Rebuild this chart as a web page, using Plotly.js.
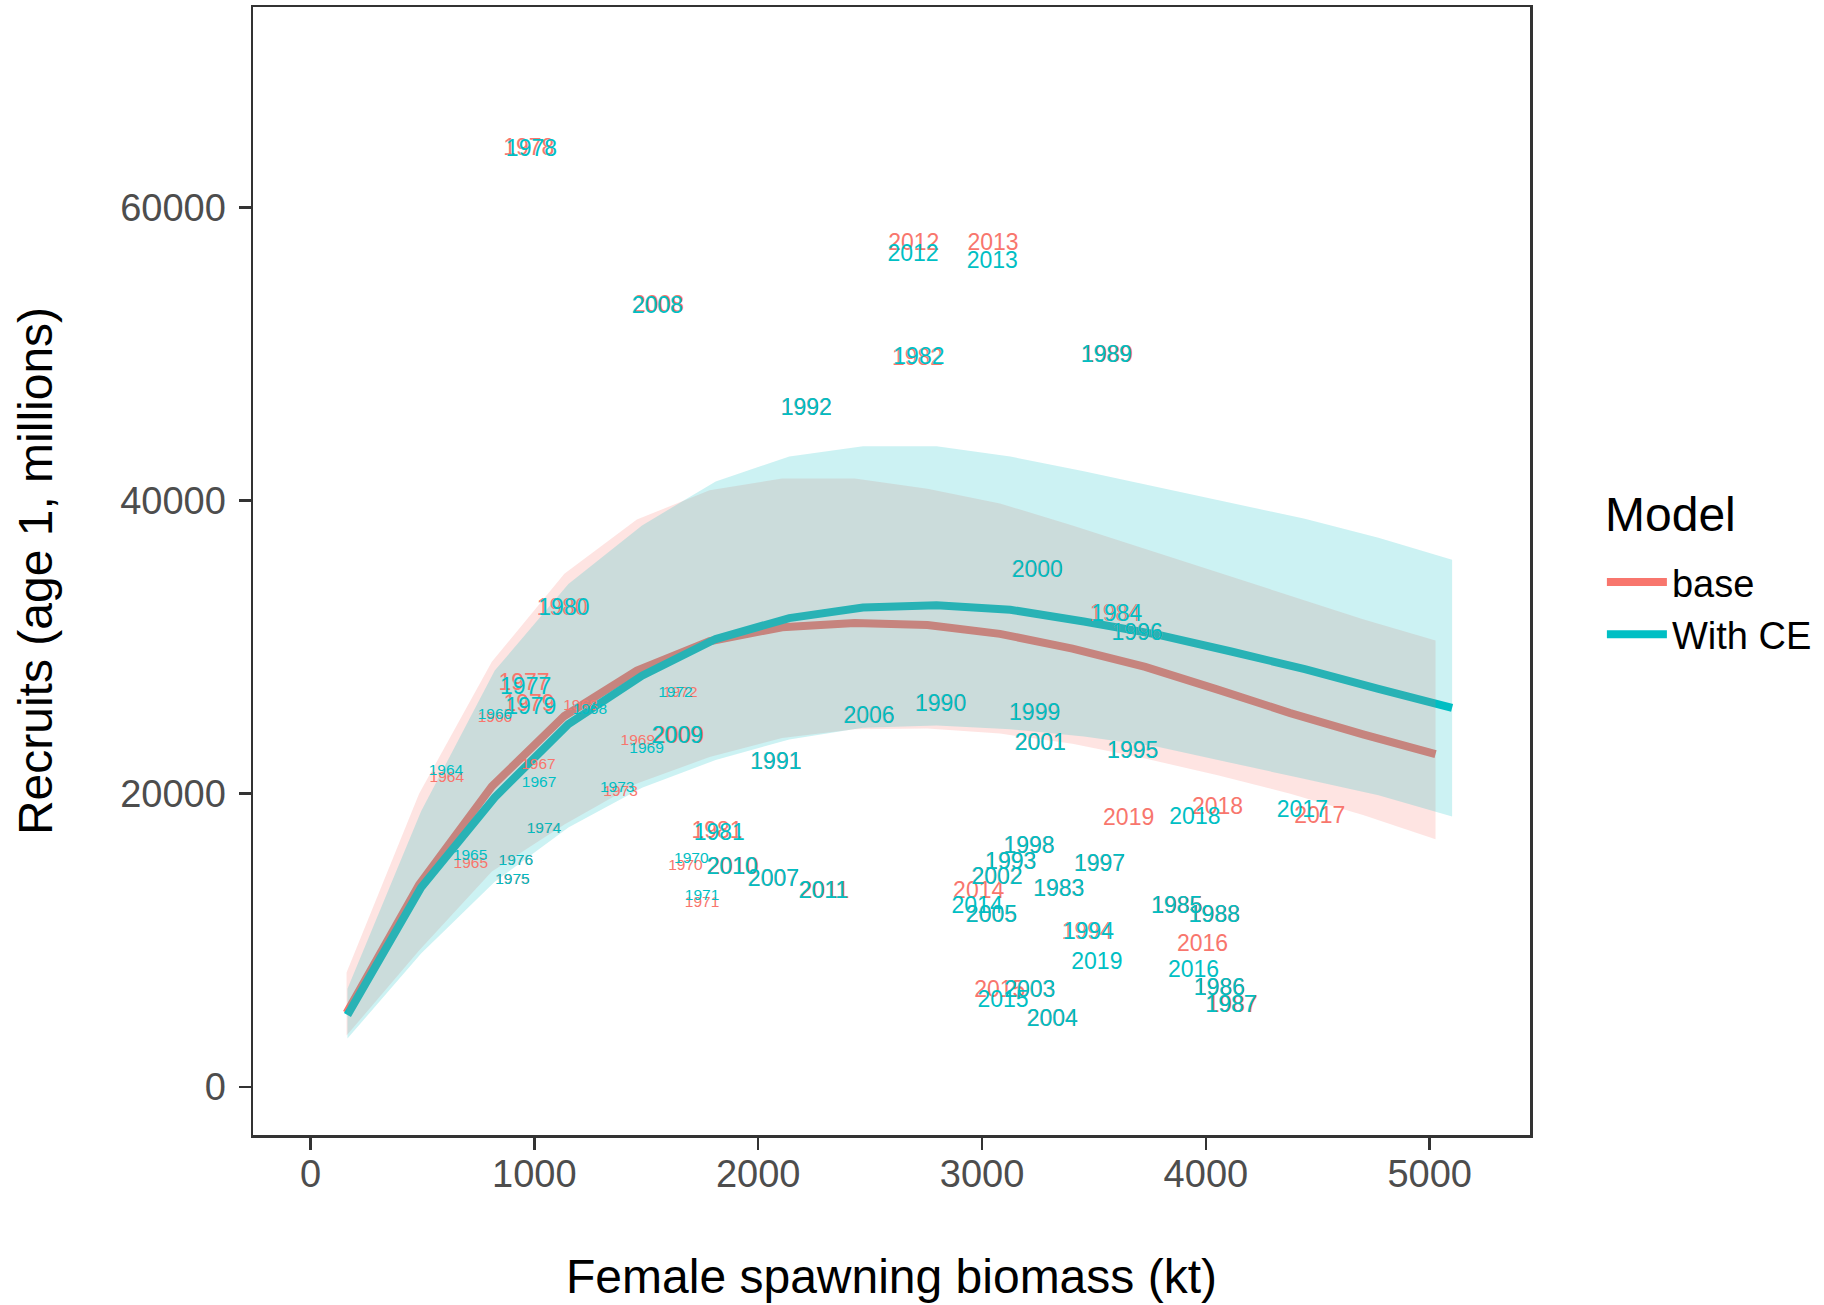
<!DOCTYPE html>
<html>
<head>
<meta charset="utf-8">
<script src="https://cdn.plot.ly/plotly-3.0.1.min.js"></script>
<style>html,body{margin:0;padding:0;background:#fff;}#chart{width:1824px;height:1305px;}</style>
</head>
<body>
<div id="chart"></div>
<script>
// ---------------- data ----------------
const years = [1964,1965,1966,1967,1968,1969,1970,1971,1972,1973,1974,1975,1976,1977,1978,1979,1980,1981,1982,1983,1984,1985,1986,1987,1988,1989,1990,1991,1992,1993,1994,1995,1996,1997,1998,1999,2000,2001,2002,2003,2004,2005,2006,2007,2008,2009,2010,2011,2012,2013,2014,2015,2016,2017,2018,2019];

// base model: spawning biomass (kt) and recruits (millions) by year
const ssbBaseYr = [609,716,824,1018,1206,1462,1675,1749,1652,1385,1043,902,917,954,975,976,1125,1816,2712,3343,3596,3872,4062,4118,4040,3560,2815,2079,2215,3128,3470,3673,3693,3525,3210,3235,3247,3260,3067,3213,3314,3042,2495,2068,1555,1645,1888,2296,2695,3049,2985,3079,3985,4509,4052,3655];
const recBaseYr = [21043,15180,25178,21929,25951,23585,15065,12522,26837,20130,17566,14110,15406,27450,63960,26040,32600,17340,49600,13429,32154,12222,6660,5521,11609,49830,26040,22106,46208,15290,10477,22836,30859,15133,16360,25406,35174,23361,14226,6496,4567,11656,25222,14090,53250,23879,14908,13245,57485,57444,13292,6496,9680,18405,19039,18289];

// With CE model
const ssbCEYr = [605,713,824,1021,1248,1501,1701,1749,1630,1370,1043,902,917,961,987,984,1132,1826,2718,3343,3602,3869,4060,4112,4037,3555,2815,2079,2215,3128,3476,3673,3693,3525,3210,3235,3247,3260,3067,3213,3314,3042,2495,2068,1549,1638,1883,2291,2692,3046,2978,3094,3945,4431,3951,3513];
const recCEYr = [21540,15746,25337,20743,25698,23020,15522,13020,26837,20402,17566,14110,15406,27178,63872,25855,32563,17226,49673,13429,32154,12222,6660,5521,11609,49830,26040,22106,46208,15290,10477,22836,30859,15133,16360,25406,35174,23361,14226,6496,4567,11656,25222,14090,53190,23879,14908,13245,56761,56237,12270,5862,7907,18814,18357,8453];

// stock-recruit curves with intervals
const ssbBase = [161,485,810,1134,1458,1783,2107,2431,2756,3080,3404,3729,4053,4377,4702,5026];
const recBase = [5050,13800,20500,25300,28400,30400,31350,31650,31500,30900,29900,28650,27100,25500,24050,22700];
const hiBase  = [7800,20000,29000,35000,38700,40700,41500,41500,40800,39800,38300,36700,35100,33500,31900,30450];
const loBase  = [3500,9300,14700,17900,20700,22500,23800,24400,24450,24100,23400,22400,21250,20000,18550,16900];

const ssbCE = [165,494,823,1152,1481,1810,2139,2468,2797,3126,3455,3784,4113,4442,4771,5100];
const recCE = [4900,13600,19750,24750,28050,30550,31980,32700,32850,32550,31750,30850,29700,28500,27150,25850];
const hiCE  = [6700,18800,28400,34300,38300,41300,43000,43700,43700,43000,42000,40900,39850,38750,37450,35960];
const loCE  = [3300,9100,14000,17700,20400,22300,23700,24500,24650,24400,23900,23200,22100,21000,19900,18450];

const modelNames = ["base", "With CE"];
const legendTitle = "Model";
const xTicks = [0,1000,2000,3000,4000,5000];
const yTicks = [0,20000,40000,60000];

// ---------------- styling ----------------
const FONT = "Liberation Sans, Arial, Helvetica, sans-serif";
const RED = "#F8766D", TEAL = "#00BFC4";
const RED_FILL = "rgba(248,118,109,0.2)", TEAL_FILL = "rgba(0,191,196,0.2)";
const labelSize = y => (y < 1977 ? 15.5 : 23);

function ribbon(x, lo, hi, color) {
  return {
    x: x.concat(x.slice().reverse()),
    y: hi.concat(lo.slice().reverse()),
    type: "scatter", mode: "lines", fill: "toself", fillcolor: color,
    line: {width: 0, color: "rgba(0,0,0,0)"}, hoverinfo: "skip", showlegend: false
  };
}

const traces = [
  {x: ssbBase, y: recBase, type: "scatter", mode: "lines", name: modelNames[0],
   line: {color: RED, width: 8}},
  {x: ssbCE, y: recCE, type: "scatter", mode: "lines", name: modelNames[1],
   line: {color: TEAL, width: 8}},
  ribbon(ssbBase, loBase, hiBase, RED_FILL),
  ribbon(ssbCE, loCE, hiCE, TEAL_FILL),
  {x: ssbBaseYr, y: recBaseYr, text: years.map(String), type: "scatter", mode: "text",
   textposition: "middle center", cliponaxis: false,
   textfont: {family: FONT, color: RED, size: years.map(labelSize)}, showlegend: false, hoverinfo: "skip"},
  {x: ssbCEYr, y: recCEYr, text: years.map(String), type: "scatter", mode: "text",
   textposition: "middle center", cliponaxis: false,
   textfont: {family: FONT, color: TEAL, size: years.map(labelSize)}, showlegend: false, hoverinfo: "skip"}
];

const axisCommon = {
  showgrid: false, zeroline: false, showline: true, mirror: true,
  linecolor: "#333333", linewidth: 2.5,
  ticks: "outside", ticklen: 12, tickwidth: 2.5, tickcolor: "#333333",
  tickfont: {family: FONT, size: 38, color: "#4D4D4D"}
};

const layout = {
  width: 1824, height: 1305,
  margin: {l: 253, r: 292, t: 7, b: 170},
  paper_bgcolor: "#ffffff", plot_bgcolor: "#ffffff",
  font: {family: FONT, color: "#000000"},
  xaxis: Object.assign({}, axisCommon, {
    range: [-257, 5448], tickvals: xTicks, ticktext: xTicks.map(String),
    ticklabelstandoff: -8,
    title: {text: "Female spawning biomass (kt)", font: {family: FONT, size: 48, color: "#000"}, standoff: 66}
  }),
  yaxis: Object.assign({}, axisCommon, {
    range: [-3280, 73660], tickvals: yTicks, ticktext: yTicks.map(String),
    ticklabelstandoff: 5,
    title: {text: "Recruits (age 1, millions)", font: {family: FONT, size: 48, color: "#000"}, standoff: 53}
  }),
  showlegend: true,
  legend: {
    x: 1.0563, y: 0.518, xanchor: "left", yanchor: "top",
    bgcolor: "rgba(0,0,0,0)", borderwidth: 0,
    font: {family: FONT, size: 38, color: "#000"},
    traceorder: "normal", itemwidth: 60, tracegroupgap: 0
  },
  annotations: [{
    text: legendTitle, xref: "paper", yref: "paper", x: 1.0571, y: 0.5498,
    xanchor: "left", yanchor: "middle", showarrow: false,
    font: {family: FONT, size: 48, color: "#000"}
  }]
};

Plotly.newPlot("chart", traces, layout, {displayModeBar: false, staticPlot: true});
</script>
</body>
</html>
